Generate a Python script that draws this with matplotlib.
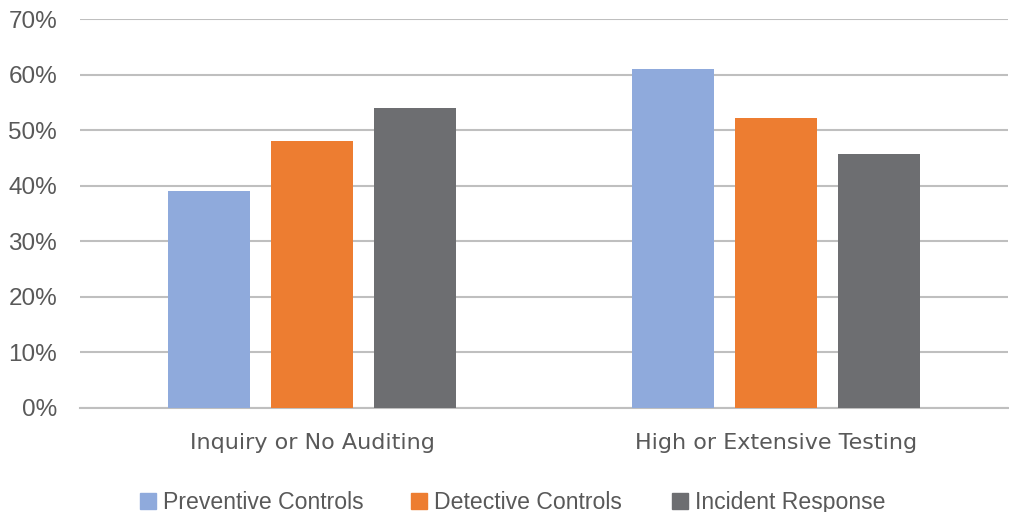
import matplotlib
matplotlib.use("Agg")
import matplotlib.pyplot as plt
import numpy as np
from matplotlib.patches import Rectangle

categories = ["Inquiry or No Auditing", "High or Extensive Testing"]
series_names = ["Preventive Controls", "Detective Controls", "Incident Response"]
preventive = [39, 61]
detective = [48, 52.2]
incident = [54, 45.7]
yticks = [0, 10, 20, 30, 40, 50, 60, 70]
colors = ["#8FAADC", "#ED7D31", "#6D6E71"]

plt.rcParams['font.family'] = ['Liberation Sans', 'DejaVu Sans']

W, H = 1009, 512
fig = plt.figure(figsize=(W/100, H/100), dpi=100)
ax = fig.add_axes([80/W, (H-408)/H, (1008-80)/W, (408-19)/H])

x = np.arange(len(categories))
width = 82/464
step = 103/464
for i, (vals, c) in enumerate(zip([preventive, detective, incident], colors)):
    ax.bar(x + (i-1)*step, vals, width=width, color=c, zorder=3)

ax.set_xlim(-0.5, 1.5)
ax.set_ylim(0, 70)
ax.set_yticks(yticks)
ax.set_yticklabels([f"{v}%" for v in yticks])
ax.set_xticks(x)
ax.set_xticklabels(categories)
ax.yaxis.grid(True, color="#BFBFBF", linewidth=1.5, zorder=0)
for s in ["top", "right", "left"]:
    ax.spines[s].set_visible(False)
ax.spines["bottom"].set_color("#BFBFBF")
ax.spines["bottom"].set_linewidth(1.5)
ax.tick_params(axis="both", length=0, colors="#595959")
ax.tick_params(axis="y", labelsize=17.5, pad=16.5)
ax.tick_params(axis="x", labelsize=16, pad=18)
for lab in ax.get_xticklabels():
    lab.set_fontfamily(["DejaVu Sans"])

# legend (manual, baseline-aligned)
marker_left = [140, 411, 672]
marker_size = 16
baseline = 509
for ml, c, name in zip(marker_left, colors, series_names):
    fig.patches.append(Rectangle((ml/W, (H-baseline)/H), marker_size/W, marker_size/H,
                                 transform=fig.transFigure, color=c, figure=fig))
    fig.text((ml + marker_size + 7)/W, (H-baseline)/H, name, fontsize=16.6,
             color="#595959", ha="left", va="baseline")

fig.savefig("out.png", dpi=100)
